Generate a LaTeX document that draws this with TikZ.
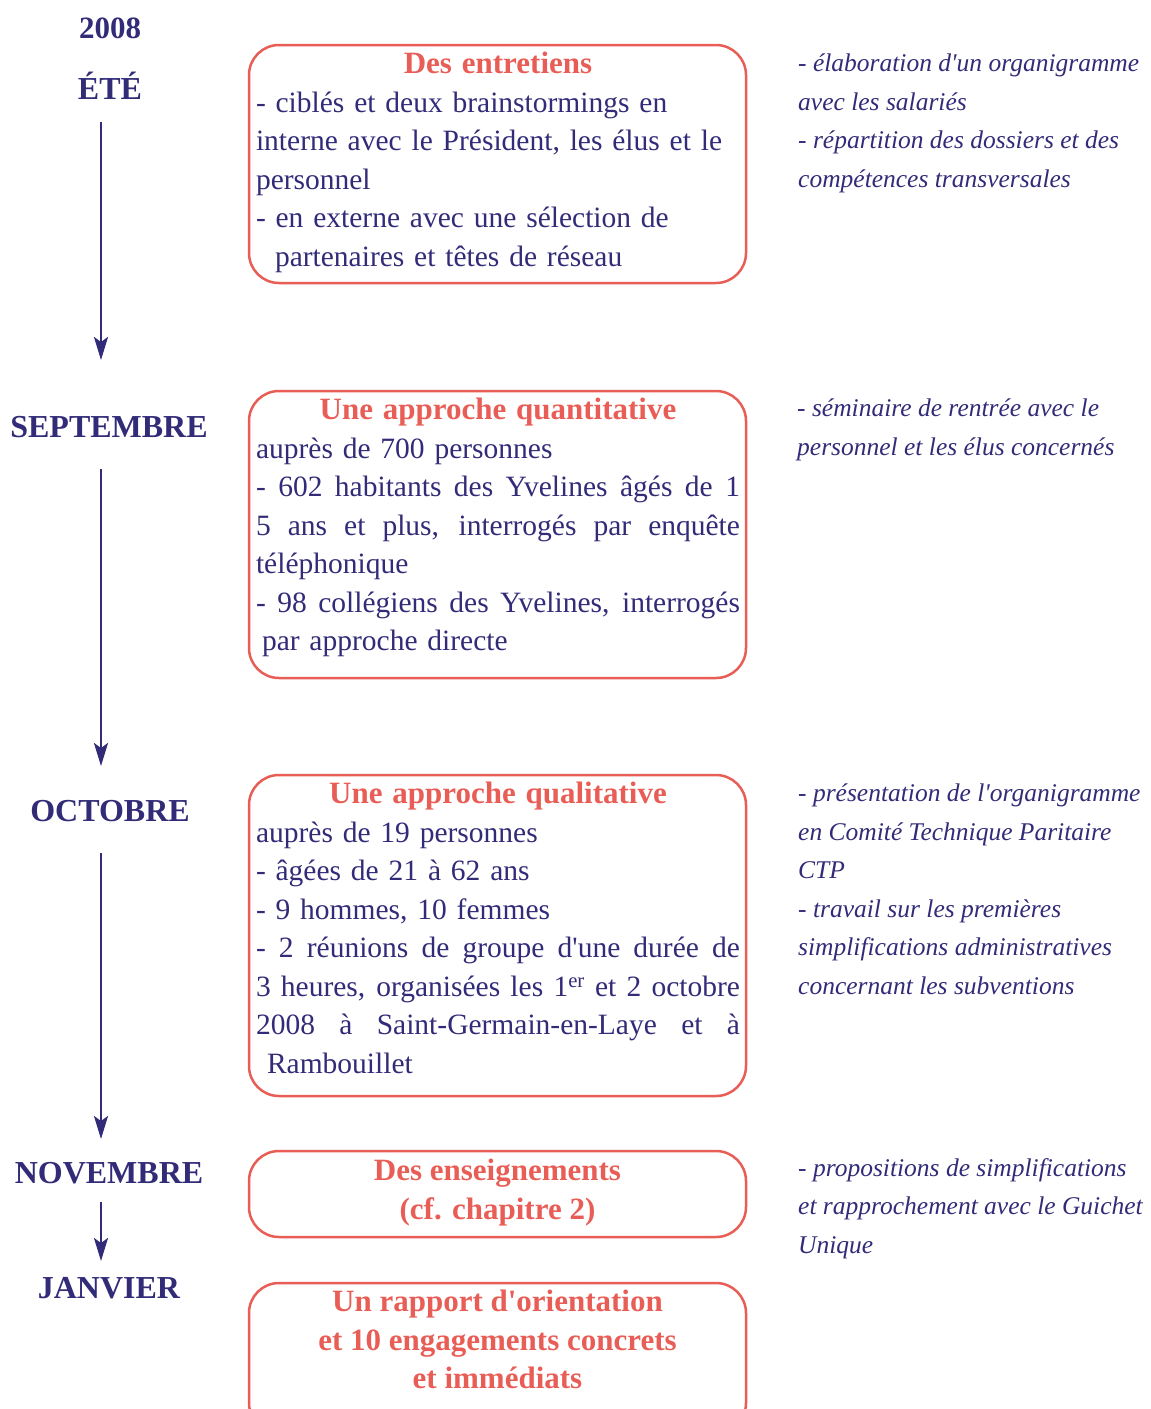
\documentclass[tikz,border=0pt]{standalone}
\usepackage{fontspec}
\setmainfont{Liberation Serif}
\usetikzlibrary{arrows.meta}
\definecolor{navy}{HTML}{322B78}
\definecolor{salmon}{HTML}{E85E57}
\newcommand\ap{\textquotesingle}
\newcommand\jl[1]{\leavevmode\hbox to 484pt{\spaceskip=.25em plus 10em\relax #1}}
\newcommand\ttlline[1]{\makebox[484pt]{\color{salmon}\bfseries\fontsize{31}{38.5}\selectfont #1}}
\tikzset{
  lbl/.style={font=\fontsize{32}{36}\selectfont\bfseries, text=navy, inner sep=0pt},
  box/.style={draw=salmon, line width=2.5pt, rounded corners=30pt, minimum width=497pt, inner sep=0pt},
  body/.style={font=\fontsize{29.5}{38.5}\selectfont, text=navy, text width=484pt, align=left, inner sep=0pt},
  ctr/.style={font=\fontsize{31}{38.5}\selectfont\bfseries, text=salmon, align=center, inner sep=0pt},
  note/.style={font=\fontsize{25.5}{38.5}\selectfont\itshape, text=navy, align=left, anchor=north west, inner sep=0pt},
  arr/.style={draw=navy, line width=2.6pt, -{Stealth[length=23pt,width=14pt,inset=5pt]}}
}
\begin{document}
\begin{tikzpicture}[x=1pt,y=-1pt]
\useasboundingbox (0,0) rectangle (1151,1409);
\clip (0,0) rectangle (1151,1409);
% left labels
\node[lbl, font=\fontsize{31}{36}\selectfont\bfseries] (y2008) at (110,28) {2008};
\node[lbl] (ete) at (110,86) {ÉTÉ};
\node[lbl] (sept) at (109,427) {SEPTEMBRE};
\node[lbl] (oct) at (110,811) {OCTOBRE};
\node[lbl] (nov) at (109,1173) {NOVEMBRE};
\node[lbl] (janv) at (109,1288) {JANVIER};
% arrows
\coordinate (a1s) at (101,122); \coordinate (a1e) at (101,360);
\coordinate (a2s) at (101,469); \coordinate (a2e) at (101,766);
\coordinate (a3s) at (101,853); \coordinate (a3e) at (101,1139);
\coordinate (a4s) at (101,1202); \coordinate (a4e) at (101,1261);
\draw[arr] (a1s) -- (a1e);
\draw[arr] (a2s) -- (a2e);
\draw[arr] (a3s) -- (a3e);
\draw[arr] (a4s) -- (a4e);
% boxes
\node[box, minimum height=238pt] (b1) at (497.5,164) {};
\node[box, minimum height=287pt] (b2) at (497.5,534.5) {};
\node[box, minimum height=321pt] (b3) at (497.5,935.5) {};
\node[box, minimum height=86pt] (b4) at (497.5,1194) {};
\node[box, minimum height=150pt] (b5) at (497.5,1358) {};
% box texts
\node[body, anchor=north] (t1) at (498,52) {%
\ttlline{Des entretiens}\\
- ciblés et deux brainstormings en\\
interne avec le Président, les élus et le\\
personnel\\
- en externe avec une sélection de\\
\hspace*{19pt}partenaires et têtes de réseau};
\node[body, anchor=north] (t2) at (498,398) {%
\ttlline{Une approche quantitative}\\
auprès de 700 personnes\\
\jl{- 602 habitants des Yvelines âgés de 1}\\
\jl{5 ans et plus, interrogés par enquête}\\
téléphonique\\
\jl{- 98 collégiens des Yvelines, interrogés}\\
\hspace*{6pt}par approche directe};
\node[body, anchor=north] (t3) at (498,782) {%
\ttlline{Une approche qualitative}\\
auprès de 19 personnes\\
- âgées de 21 à 62 ans\\
- 9 hommes, 10 femmes\\
\jl{- 2 réunions de groupe d\ap{}une durée de}\\
\jl{3 heures, organisées les 1\textsuperscript{er} et 2 octobre}\\
\jl{2008 à Saint-Germain-en-Laye et à}\\
\hspace*{11pt}Rambouillet};
\node[ctr, anchor=north] (t4) at (497.5,1159) {Des enseignements\\(cf. chapitre 2)};
\node[ctr, anchor=north] (t5) at (497.5,1290) {Un rapport d\ap{}orientation\\et 10 engagements concrets\\et immédiats};
% right notes
\node[note] (n1) at (798,54) {- élaboration d\ap{}un organigramme\\avec les salariés\\- répartition des dossiers et des\\compétences transversales};
\node[note] (n2) at (797,399) {- séminaire de rentrée avec le\\personnel et les élus concernés};
\node[note] (n3) at (798,784) {- présentation de l\ap{}organigramme\\en Comité Technique Paritaire\\CTP\\- travail sur les premières\\simplifications administratives\\concernant les subventions};
\node[note] (n4) at (798,1158) {- propositions de simplifications\\et rapprochement avec le Guichet\\Unique};
\end{tikzpicture}
\end{document}
